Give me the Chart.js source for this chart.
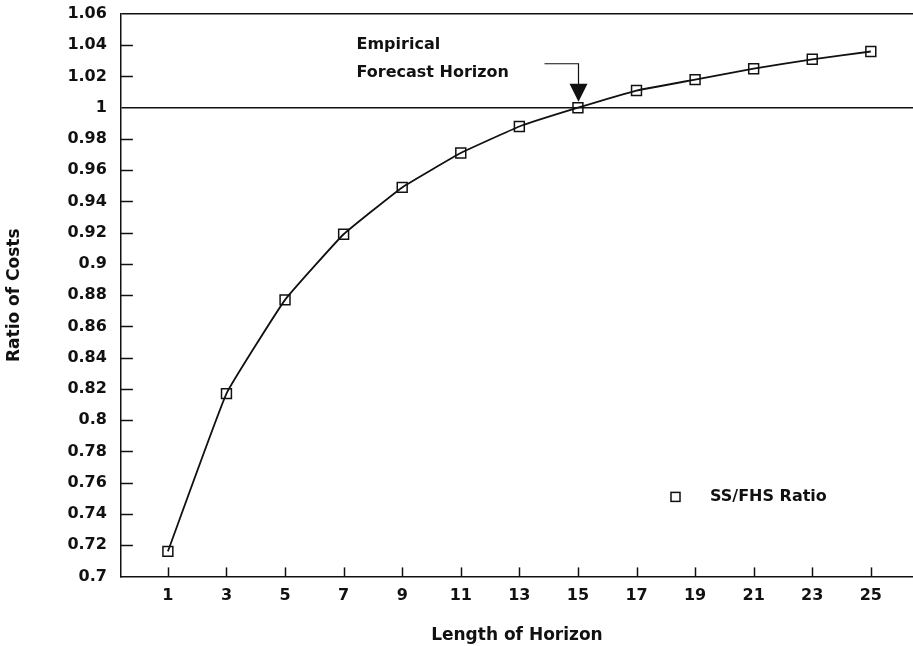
<!DOCTYPE html>
<html>
<head>
<meta charset="utf-8">
<script src="https://cdn.jsdelivr.net/npm/chart.js@4.4.0/dist/chart.umd.min.js"></script>
<style>
  html, body { margin: 0; padding: 0; background: #fff; }
  #wrap { width: 913px; height: 646px; }
</style>
</head>
<body>
<div id="wrap"><canvas id="c" width="913" height="646"></canvas></div>
<script>
// horizon lengths on the x axis (also the tick labels)
const horizons = [1, 3, 5, 7, 9, 11, 13, 15, 17, 19, 21, 23, 25];
// SS/FHS cost ratio
const ssFhsRatio = [0.716, 0.817, 0.877, 0.919, 0.949, 0.971, 0.988, 1.000, 1.011, 1.018, 1.025, 1.031, 1.036];
// y tick labels
const yTicks = [0.7, 0.72, 0.74, 0.76, 0.78, 0.8, 0.82, 0.84, 0.86, 0.88, 0.9, 0.92, 0.94, 0.96, 0.98, 1, 1.02, 1.04, 1.06];

const FONT = "'DejaVu Sans', sans-serif";
const INK = '#111';

// tick marks point inward, plus the annotation arrow and the legend
const decor = {
  id: 'decor',
  afterDraw(chart) {
    const { ctx, chartArea: a, scales: { x, y } } = chart;
    ctx.save();
    ctx.strokeStyle = INK;
    ctx.fillStyle = INK;
    ctx.lineWidth = 1.5;

    // y ticks
    yTicks.forEach((v) => {
      if (v === 1 || v === 0.7 || v === 1.06) return;
      const py = Math.round(y.getPixelForValue(v)) + 0.5;
      ctx.beginPath();
      ctx.moveTo(a.left, py);
      ctx.lineTo(a.left + 12, py);
      ctx.stroke();
    });
    // x ticks
    horizons.forEach((v) => {
      const px = Math.round(x.getPixelForValue(v)) + 0.5;
      ctx.beginPath();
      ctx.moveTo(px, a.bottom);
      ctx.lineTo(px, a.bottom - 9);
      ctx.stroke();
    });

    // "Empirical Forecast Horizon" arrow, pointing at horizon 15
    const ax = Math.round(x.getPixelForValue(15)) + 0.5;
    const tip = y.getPixelForValue(1) - 6;
    ctx.lineWidth = 1.2;
    ctx.beginPath();
    ctx.moveTo(ax - 34, tip - 38);
    ctx.lineTo(ax, tip - 38);
    ctx.lineTo(ax, tip - 16);
    ctx.stroke();
    ctx.beginPath();
    ctx.moveTo(ax - 9, tip - 18);
    ctx.lineTo(ax + 9, tip - 18);
    ctx.lineTo(ax, tip);
    ctx.closePath();
    ctx.fill();

    ctx.font = 'bold 16px ' + FONT;
    ctx.textAlign = 'left';
    ctx.textBaseline = 'middle';
    ctx.fillText('Empirical', ax - 222, tip - 57);
    ctx.fillText('Forecast Horizon', ax - 222, tip - 29);

    // legend
    const lx = a.right - 238, ly = a.bottom - 80;
    ctx.lineWidth = 1.5;
    ctx.strokeRect(lx - 4, ly - 4, 9, 9);
    ctx.fillText('SS/FHS Ratio', lx + 35, ly);
    ctx.restore();
  },
};

new Chart(document.getElementById('c'), {
  type: 'line',
  data: {
    datasets: [{
      label: 'SS/FHS Ratio',
      data: horizons.map((h, i) => ({ x: h, y: ssFhsRatio[i] })),
      borderColor: INK,
      borderWidth: 1.8,
      backgroundColor: 'rgba(0,0,0,0)',
      pointStyle: 'rect',
      pointRadius: 7,
      pointBorderWidth: 1.5,
      pointBorderColor: INK,
      tension: 0.1,
    }],
  },
  options: {
    responsive: false,
    animation: false,
    layout: { autoPadding: false, padding: { left: 4, top: 14, right: 0, bottom: 0 } },
    plugins: { legend: { display: false }, tooltip: { enabled: false } },
    scales: {
      x: {
        type: 'linear',
        min: -0.605,
        max: 26.44,
        afterBuildTicks: (s) => { s.ticks = horizons.map((v) => ({ value: v })); },
        ticks: { color: INK, font: { family: FONT, size: 16, weight: 'bold' }, padding: 10, maxRotation: 0, autoSkip: false },
        grid: { display: false, drawTicks: false },
        border: { display: true, color: INK, width: 1.5 },
        title: { display: true, text: 'Length of Horizon', color: INK, font: { family: FONT, size: 17, weight: 'bold' }, padding: { top: 10, bottom: 0 } },
      },
      y: {
        type: 'linear',
        min: 0.7,
        max: 1.06,
        afterBuildTicks: (s) => { s.ticks = yTicks.map((v) => ({ value: v })); },
        // keep the label gap without it pushing the plot top down
        afterFit: (s) => { s.paddingTop = 0; s.paddingBottom = 0; },
        ticks: { color: INK, font: { family: FONT, size: 16, weight: 'bold' }, padding: 14, autoSkip: false, callback: (v) => String(v) },
        grid: {
          drawTicks: false,
          lineWidth: 1.5,
          color: (c) => (c.tick && (c.tick.value === 1 || c.tick.value === 1.06) ? INK : 'rgba(0,0,0,0)'),
        },
        border: { display: true, color: INK, width: 1.5 },
        title: { display: true, text: 'Ratio of Costs', color: INK, font: { family: FONT, size: 17, weight: 'bold' }, padding: { top: 0, bottom: 29 } },
      },
    },
  },
  plugins: [decor],
});
</script>
</body>
</html>
